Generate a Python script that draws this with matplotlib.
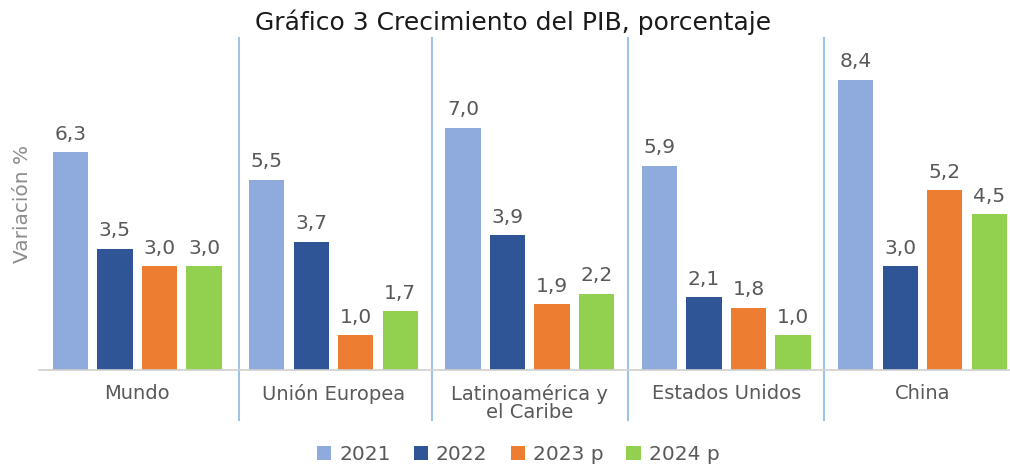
import matplotlib
matplotlib.use("Agg")
import matplotlib.pyplot as plt
import numpy as np

categorias = ["Mundo", "Unión Europea", "Latinoamérica y\nel Caribe", "Estados Unidos", "China"]
series = ["2021", "2022", "2023 p", "2024 p"]
v2021 = [6.3, 5.5, 7.0, 5.9, 8.4]
v2022 = [3.5, 3.7, 3.9, 2.1, 3.0]
v2023 = [3.0, 1.0, 1.9, 1.8, 5.2]
v2024 = [3.0, 1.7, 2.2, 1.0, 4.5]
colores = ["#8FAADC", "#2F5597", "#ED7D31", "#92D050"]

plt.rcParams['font.family'] = ['DejaVu Sans']

fig = plt.figure(figsize=(10.1, 4.68), dpi=100)
ax = fig.add_axes([0.0386, 0.2094, 0.972, 0.709])

x = np.arange(len(categorias))
ancho = 0.18
paso = 0.227
valores = [v2021, v2022, v2023, v2024]
for i, (vals, col, nom) in enumerate(zip(valores, colores, series)):
    pos = x + (i - 1.5) * paso
    ax.bar(pos, vals, ancho, color=col, label=nom)
    for xp, v in zip(pos, vals):
        ax.text(xp, v + 0.25, f"{v:.1f}".replace(".", ","), ha="center", va="bottom",
                fontsize=14.5, color="#595959")

ax.set_xlim(-0.5, 4.5)
ax.set_ylim(0, 9.6)
for s in ["top", "right", "left"]:
    ax.spines[s].set_visible(False)
ax.spines["bottom"].set_color("#D0D0D0")
ax.spines["bottom"].set_linewidth(1.2)
ax.set_yticks([])
ax.set_xticks(x)
ax.set_xticklabels(categorias, fontsize=14, color="#595959", linespacing=0.95)
ax.tick_params(axis="x", length=0, pad=10)

# separadores entre grupos
for sep in [0.52, 1.5, 2.5, 3.5]:
    ax.plot([sep, sep], [-1.45, 9.6], color="#9DC3E6", lw=1.5, clip_on=False)

ax.set_ylabel("Variación %", fontsize=14.5, color="#8C8C8C")
ax.yaxis.set_label_coords(-0.007, 0.5)

fig.suptitle("Gráfico 3 Crecimiento del PIB, porcentaje", fontsize=18, color="#1a1a1a", y=0.98, x=0.508)

fig.legend(loc="lower center", ncol=4, frameon=False, fontsize=14.5, bbox_to_anchor=(0.513, -0.03),
           handlelength=0.7, handleheight=0.7, handletextpad=0.4, columnspacing=1.15, labelcolor="#595959")

fig.savefig("out.png", dpi=100)
